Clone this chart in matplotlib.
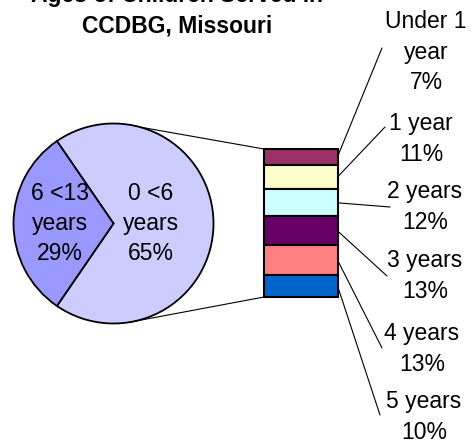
import numpy as np
import matplotlib
matplotlib.use('Agg')
import matplotlib.pyplot as plt
from matplotlib.patches import ConnectionPatch

plt.rcParams['font.family'] = ['Liberation Sans', 'DejaVu Sans']

# pie: the two age groups
pie_labels = ['0 <6\nyears', '6 <13\nyears']
pie_values = [65, 29]
pie_colors = ['#CCCCFF', '#9999FF']

# bar: breakdown of the 0 <6 group
bar_labels = ['Under 1\nyear', '1 year', '2 years', '3 years', '4 years', '5 years']
bar_values = [7, 11, 12, 13, 13, 10]
bar_colors = ['#993366', '#FFFFCC', '#CCFFFF', '#660066', '#FF8080', '#0066CC']

title = 'Ages of Children Served in\nCCDBG, Missouri'

W, H = 474, 443
FS = 16.5
LS = 1.4

# label placement (pixels from top-left)
label_centers = [(426, 52), (421, 139), (425, 207), (425, 276), (422, 349), (424, 417)]
leader_ends = [(382, 48), (385, 127), (390, 207), (387, 276), (382, 348), (380, 415)]


def px_rect(x, y, w, h):
    """Axes rect from a pixel box measured from the top-left corner."""
    return [x / W, 1 - (y + h) / H, w / W, h / H]


def fig_px(x, y):
    return (x, H - y)


fig = plt.figure(figsize=(W / 100, H / 100), dpi=100)

# pie
ax1 = fig.add_axes(px_rect(13.5, 123.5, 200, 200))
start = -180 * pie_values[0] / sum(pie_values)
wedges, _ = ax1.pie(pie_values, colors=pie_colors, startangle=start,
                    wedgeprops=dict(edgecolor='black', linewidth=1.3))
ax1.set_xlim(-1, 1)
ax1.set_ylim(-1, 1)
for w, lab, val, r in zip(wedges, pie_labels, pie_values, [0.37, 0.535]):
    a = np.deg2rad((w.theta1 + w.theta2) / 2)
    ax1.text(r * np.cos(a), r * np.sin(a), '%s\n%d%%' % (lab, val),
             ha='center', va='center', fontsize=FS, linespacing=LS)

# stacked bar
ax2 = fig.add_axes(px_rect(264, 149, 73.5, 148))
total = sum(bar_values)
bottoms = np.concatenate([[0], np.cumsum(bar_values)[:-1]])
ax2.bar(0, bar_values, bottom=bottoms, width=1, color=bar_colors,
        edgecolor='black', linewidth=1.5, clip_on=False)
ax2.set_xlim(-0.5, 0.5)
ax2.set_ylim(total, 0)
ax2.axis('off')

# connector lines pie -> bar
for ang, yb in [(74.6, 0), (-80.5, total)]:
    a = np.deg2rad(ang)
    con = ConnectionPatch(xyA=(np.cos(a), np.sin(a)), coordsA=ax1.transData,
                          xyB=(-0.5, yb), coordsB=ax2.transData,
                          color='black', lw=0.8)
    fig.add_artist(con)

# leader lines and labels
for b, v, lab, c, e in zip(bottoms, bar_values, bar_labels, label_centers, leader_ends):
    con = ConnectionPatch(xyA=(0.5, b + v / 2), coordsA=ax2.transData,
                          xyB=fig_px(*e), coordsB='figure pixels',
                          color='black', lw=0.8)
    fig.add_artist(con)
    fig.text(c[0] / W, 1 - c[1] / H, '%s\n%d%%' % (lab, v), ha='center', va='center',
             fontsize=FS, linespacing=LS)

fig.text(177 / W, 1 - 37.6 / H, title, ha='center', va='bottom',
         fontsize=FS, fontweight='bold', linespacing=LS)

fig.savefig('out.png', dpi=100, facecolor='white')
